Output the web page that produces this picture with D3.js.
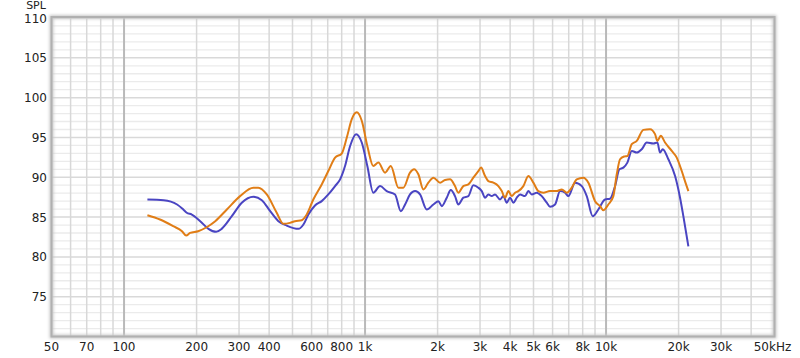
<!DOCTYPE html>
<html>
<head>
<meta charset="utf-8">
<script src="https://cdn.jsdelivr.net/npm/d3@7/dist/d3.min.js"></script>
<style>
  html, body { margin: 0; padding: 0; background: #fff; }
  svg { display: block; }
  text { font-family: "DejaVu Sans", Verdana, sans-serif; font-size: 12px; fill: #222; }
</style>
</head>
<body>
<svg id="chart" width="800" height="358"></svg>
<script>
// ---- data ----
const blueFreq = [125,146,166,176,182,191,207,224,241,254,280,308,344,373,404,437,473,529,555,582,620,661,704,751,788,826,867,918,969,1022,1082,1154,1230,1332,1407,1466,1537,1613,1691,1803,1921,2015,2082,2183,2268,2362,2438,2557,2683,2814,2952,3050,3148,3248,3355,3462,3633,3749,3873,3997,4125,4262,4398,4612,4760,4917,5157,5410,5675,5856,6143,6444,6760,6977,7437,7931,8316,8807,9290,9905,10390,10900,11356,11800,12260,12785,13410,14065,14755,15715,16330,16750,17190,18135,19340,20280,20930,21960];
const blueSPL = [87.2,87.12,86.58,85.95,85.54,85.32,84.48,83.52,83.14,83.52,85.11,86.8,87.55,87.12,85.74,84.48,83.93,83.52,84.06,85.32,86.46,87.0,87.84,88.89,89.74,91.41,93.93,95.41,94.36,91.41,88.06,88.89,88.26,87.84,85.74,86.58,87.84,88.26,87.84,85.95,86.58,87.0,86.37,87.43,88.39,87.63,86.58,87.43,87.63,88.98,88.69,88.26,87.43,87.84,87.63,87.84,87.21,87.63,86.8,87.43,86.8,87.43,87.84,87.63,88.26,87.84,88.06,87.63,86.8,86.29,86.58,88.26,88.06,87.63,89.32,88.89,87.63,85.11,85.95,87.21,87.3,88.89,91.0,91.21,91.84,93.3,93.1,93.52,94.36,94.24,94.36,93.1,93.52,92.26,90.15,87.43,85.11,81.32];

const orangeFreq = [125,141,160,174,181,188,203,220,239,267,303,344,361,391,430,458,488,512,546,573,610,661,704,751,800,840,881,924,969,1022,1082,1136,1211,1279,1375,1442,1537,1597,1664,1746,1831,1921,2048,2148,2252,2362,2438,2557,2683,2814,2952,3029,3148,3248,3407,3574,3692,3810,3933,4061,4192,4326,4538,4760,4993,5237,5494,5856,6244,6550,6871,7205,7557,8052,8446,9004,9443,9745,10221,10722,11077,11433,11876,12260,12785,13410,14283,15225,15970,16330,16865,17570,18735,19650,20610,21480,21960];
const orangeSPL = [85.23,84.69,83.85,83.22,82.67,83.01,83.22,83.72,84.48,85.95,87.63,88.69,88.69,87.84,85.54,84.15,84.27,84.48,84.6,85.32,87.21,89.1,90.78,92.47,92.98,94.99,97.3,98.15,97.09,93.93,91.41,91.84,90.58,91.41,88.69,88.69,90.58,91.0,90.37,88.47,89.32,89.95,89.32,89.65,89.74,88.89,88.06,88.89,89.1,89.95,90.78,91.21,90.15,89.52,89.32,88.89,88.26,87.43,88.26,87.63,88.06,88.26,88.89,90.15,89.32,88.26,88.06,88.26,88.26,88.47,88.06,88.69,89.74,89.95,89.32,87.0,86.37,85.86,86.58,87.63,90.37,92.26,92.6,92.67,94.15,94.56,95.95,96.04,95.41,94.56,95.2,94.36,93.3,92.47,90.78,89.1,88.26];

const xTickValues = [50,70,100,200,300,400,600,800,1000,2000,3000,4000,5000,6000,8000,10000,20000,30000,50000];
const xTickLabels = ["50","70","100","200","300","400","600","800","1k","2k","3k","4k","5k","6k","8k","10k","20k","30k","50kHz"];
const xGridMinor = [60,70,80,90,200,300,400,500,600,700,800,900,2000,3000,4000,5000,6000,7000,8000,9000,20000,30000,40000];
const xGridMajor = [100,1000,10000];
const yTickValues = [75,80,85,90,95,100,105,110];
const yLabel = "SPL";

// ---- layout ----
const svg = d3.select("#chart");
const pLeft = 51.5, pRight = 774.5, pTop = 17, pBottom = 336.5;
const x = d3.scaleLog().domain([50, 50000]).range([pLeft, pRight]);
const y = d3.scaleLinear().domain([70, 110]).range([336.5, 18]);

const defs = svg.append("defs");
const flt = defs.append("filter").attr("id", "shadow").attr("x", "-5%").attr("y", "-5%").attr("width", "110%").attr("height", "110%");
flt.append("feGaussianBlur").attr("stdDeviation", 1.5);

// plot background
svg.append("rect").attr("x", pLeft).attr("y", pTop).attr("width", pRight - pLeft).attr("height", pBottom - pTop).attr("fill", "#fff");

const grid = svg.append("g");
grid.selectAll("line.hmin").data(d3.range(71, 110).filter(v => v % 5 !== 0)).join("line")
  .attr("x1", pLeft).attr("x2", pRight).attr("y1", d => y(d)).attr("y2", d => y(d))
  .attr("stroke", "#ebebeb").attr("stroke-width", 1.3);
grid.selectAll("line.hmaj").data(yTickValues).join("line")
  .attr("x1", pLeft).attr("x2", pRight).attr("y1", d => y(d)).attr("y2", d => y(d))
  .attr("stroke", "#d9d9d9").attr("stroke-width", 1.5);
grid.selectAll("line.vmin").data(xGridMinor).join("line")
  .attr("y1", pTop).attr("y2", pBottom).attr("x1", d => x(d)).attr("x2", d => x(d))
  .attr("stroke", "#d8d8d8").attr("stroke-width", 1.5);
grid.selectAll("line.vmaj").data(xGridMajor).join("line")
  .attr("y1", pTop).attr("y2", pBottom).attr("x1", d => x(d)).attr("x2", d => x(d))
  .attr("stroke", "#b9b9b9").attr("stroke-width", 2);

// frame with shadow
svg.append("rect").attr("x", pLeft).attr("y", pTop).attr("width", pRight - pLeft).attr("height", pBottom - pTop)
  .attr("fill", "none").attr("stroke", "#c8c8c8").attr("stroke-width", 4).attr("filter", "url(#shadow)");
svg.append("rect").attr("x", pLeft).attr("y", pTop).attr("width", pRight - pLeft).attr("height", pBottom - pTop)
  .attr("fill", "none").attr("stroke", "#b0b0b0").attr("stroke-width", 2);

// curves
const line = d3.line().x(d => x(d[0])).y(d => y(d[1])).curve(d3.curveMonotoneX);
const blue = blueFreq.map((fr, i) => [fr, blueSPL[i]]);
const orange = orangeFreq.map((fr, i) => [fr, orangeSPL[i]]);
svg.append("path").datum(blue).attr("d", line).attr("fill", "none").attr("stroke", "#4a45c2").attr("stroke-width", 2).attr("stroke-linejoin", "round");
svg.append("path").datum(orange).attr("d", line).attr("fill", "none").attr("stroke", "#e07d16").attr("stroke-width", 2).attr("stroke-linejoin", "round");

// y labels
svg.selectAll("text.yl").data(yTickValues).join("text")
  .attr("x", 47).attr("y", d => y(d) + 4.5).attr("text-anchor", "end").text(d => d);
svg.append("text").attr("x", 36).attr("y", 8.5).attr("text-anchor", "middle").style("font-size", "11px").text(yLabel);

// x labels
svg.selectAll("text.xl").data(xTickValues).join("text")
  .attr("x", (d, i) => i === xTickValues.length - 1 ? x(d) - 2 : x(d))
  .attr("y", 351).attr("text-anchor", "middle").text((d, i) => xTickLabels[i]);
</script>
</body>
</html>
